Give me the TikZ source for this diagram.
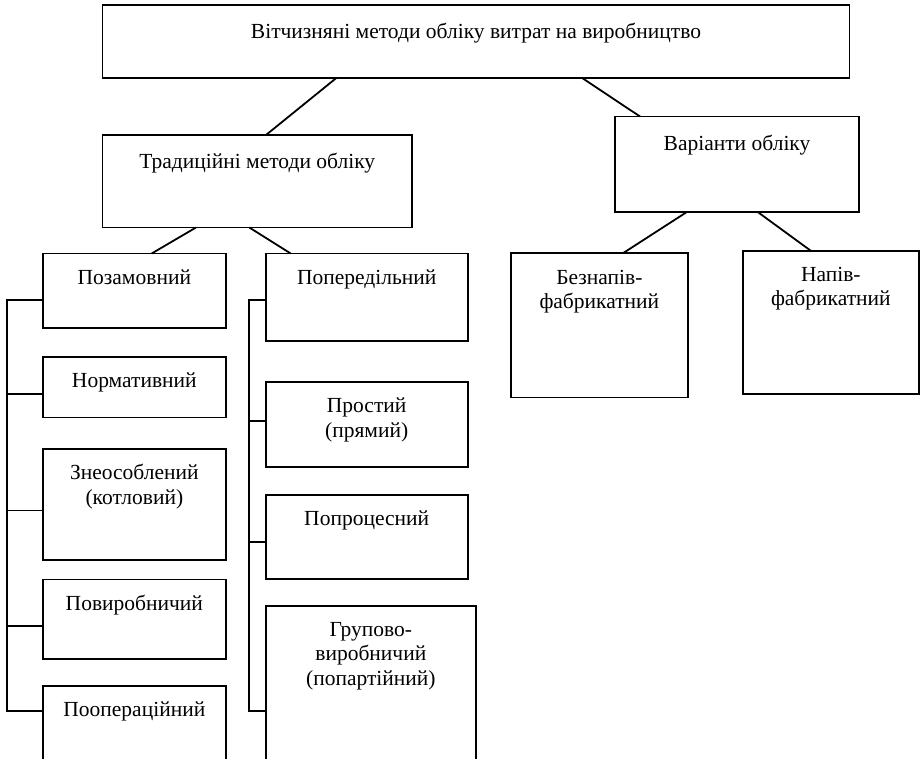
\documentclass[tikz,border=0pt]{standalone}
\usepackage{fontspec}
\setmainfont{Liberation Serif}
\begin{document}
\begin{tikzpicture}[x=1pt,y=-1pt,
  box/.style={draw=black, line width=1.8pt, rectangle, inner sep=0pt, outer sep=0pt, anchor=north west},
  lbl/.style={anchor=base, inner sep=0pt, align=center, font=\fontsize{21.5}{24.5}\selectfont},
  link/.style={draw=black, line width=1.8pt}]
\useasboundingbox (0,0) rectangle (923,759);
\clip (0,0) rectangle (923,759);
% boxes
\node[box, minimum width=747pt, minimum height=72.7pt] (top) at (102.5,5) {};
\node[box, minimum width=309.5pt, minimum height=92.5pt] (trad) at (102.5,135) {};
\node[box, minimum width=244pt, minimum height=95.2pt] (var) at (615,116.5) {};
\node[box, minimum width=183.3pt, minimum height=74.2pt] (poz) at (42.7,253.5) {};
\node[box, minimum width=183.3pt, minimum height=60.5pt] (norm) at (42.7,357) {};
\node[box, minimum width=183.3pt, minimum height=110.7pt] (zneo) at (42.7,449.3) {};
\node[box, minimum width=183.3pt, minimum height=79.8pt] (povyr) at (42.7,579.5) {};
\node[box, minimum width=183.3pt, minimum height=100pt] (poop) at (42.7,686) {};
\node[box, minimum width=202pt, minimum height=87.2pt] (poper) at (265.7,253.5) {};
\node[box, minimum width=202pt, minimum height=84.4pt] (prost) at (265.7,382.3) {};
\node[box, minimum width=202pt, minimum height=84.3pt] (poproc) at (265.7,495) {};
\node[box, minimum width=210.3pt, minimum height=180pt] (grup) at (265.7,605.7) {};
\node[box, minimum width=176.7pt, minimum height=144.5pt] (bez) at (511,253) {};
\node[box, minimum width=176.3pt, minimum height=143.6pt] (napiv) at (742.7,250.7) {};
% texts (base anchor = baseline of the last line)
\node[lbl] (ttop) at ([yshift=-34pt]top.north) {Вітчизняні методи обліку витрат на виробництво};
\node[lbl] (ttrad) at ([yshift=-34pt]trad.north) {Традиційні методи обліку};
\node[lbl] (tvar) at ([yshift=-34pt]var.north) {Варіанти обліку};
\node[lbl] (tpoz) at ([yshift=-30.5pt]poz.north) {Позамовний};
\node[lbl] (tnorm) at ([yshift=-30.5pt]norm.north) {Нормативний};
\node[lbl] (tzneo) at ([yshift=-55pt]zneo.north) {Знеособлений\\(котловий)};
\node[lbl] (tpovyr) at ([yshift=-30.5pt]povyr.north) {Повиробничий};
\node[lbl] (tpoop) at ([yshift=-30.5pt]poop.north) {Пооперацiйний};
\node[lbl] (tposper) at ([yshift=-30.5pt]poper.north) {Попередільний};
\node[lbl] (tprost) at ([yshift=-55pt]prost.north) {Простий\\(прямий)};
\node[lbl] (tpoproc) at ([yshift=-30.5pt]poproc.north) {Попроцесний};
\node[lbl] (tgrup) at ([yshift=-79.5pt]grup.north) {Групово-\\виробничий\\(попартійний)};
\node[lbl] (tbez) at ([yshift=-55.5pt]bez.north) {Безнапів-\\фабрикатний};
\node[lbl] (tnapiv) at ([yshift=-55pt]napiv.north) {Напів-\\фабрикатний};
% tree connectors
\draw[link] ([xshift=234.2pt]top.south west) -- ([xshift=163.5pt]trad.north west);
\draw[link] ([xshift=479.2pt]top.south west) -- ([xshift=25pt]var.north west);
\draw[link] ([xshift=93.5pt]trad.south west) -- ([xshift=109pt]poz.north west);
\draw[link] ([xshift=146.8pt]trad.south west) -- ([xshift=25pt]poper.north west);
\draw[link] ([xshift=72.3pt]var.south west) -- ([xshift=112.3pt]bez.north west);
\draw[link] ([xshift=142.3pt]var.south west) -- ([xshift=68pt]napiv.north west);
% left bus
\draw[link] ([yshift=-46.5pt]poz.north west) -- ++(-36,0) |- ([yshift=-24.7pt]poop.north west);
\draw[link] ([yshift=-37.3pt]norm.north west) -- ++(-36,0);
\draw[link] ([yshift=-61.2pt]zneo.north west) -- ++(-36,0);
\draw[link] ([yshift=-46.5pt]povyr.north west) -- ++(-36,0);
% right bus
\draw[link] ([yshift=-46.5pt]poper.north west) -- ++(-17,0) |- ([yshift=-105pt]grup.north west);
\draw[link] ([yshift=-38.4pt]prost.north west) -- ++(-17,0);
\draw[link] ([yshift=-46.7pt]poproc.north west) -- ++(-17,0);
\end{tikzpicture}
\end{document}
